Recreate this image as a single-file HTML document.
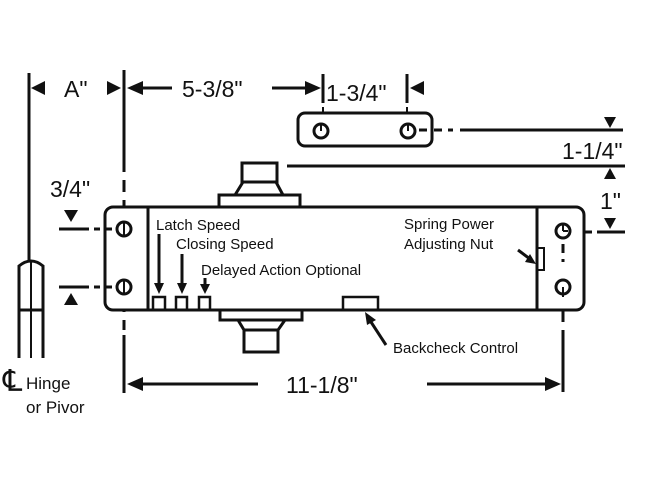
<!DOCTYPE html>
<html><head><style>body{margin:0;background:#fff}svg{display:block}text{font-family:"Liberation Sans",sans-serif;fill:#111}</style></head>
<body>
<svg width="650" height="478" viewBox="0 0 650 478" xmlns="http://www.w3.org/2000/svg">
<g stroke="#111" stroke-width="3" fill="none">
<!-- hinge -->
<line x1="29" y1="73" x2="29" y2="260"/>
<path d="M19,358V266Q31,256 43,266V358" />
<line x1="19" y1="310" x2="43" y2="310"/>
<line x1="31" y1="262" x2="31" y2="358" stroke-width="2"/>
<path d="M31,88l14,-7v14z" fill="#111" stroke="none"/>
<path d="M121,88l-14,-7v14z" fill="#111" stroke="none"/>
<!-- left vertical -->
<line x1="124" y1="70" x2="124" y2="160"/>
<line x1="124" y1="160" x2="124" y2="330" stroke-dasharray="12,8"/>
<line x1="124" y1="335" x2="124" y2="393"/>
<!-- 5-3/8 -->
<line x1="140" y1="88" x2="172" y2="88"/>
<path d="M127,88l16,-7v14z" fill="#111" stroke="none"/>
<line x1="272" y1="88" x2="305" y2="88"/>
<path d="M321,88l-16,-7v14z" fill="#111" stroke="none"/>
<line x1="323" y1="74" x2="323" y2="103"/>
<line x1="407" y1="74" x2="407" y2="103"/>
<path d="M410,88l14,-7v14z" fill="#111" stroke="none"/>
<!-- plate -->
<rect x="298" y="113" width="134" height="33" rx="7"/>
<circle cx="321" cy="131" r="7"/><circle cx="408" cy="131" r="7"/>
<line x1="321" y1="124" x2="321" y2="131" stroke-width="2"/>
<line x1="408" y1="124" x2="408" y2="131" stroke-width="2"/>
<line x1="323" y1="107" x2="323" y2="113" stroke-width="2"/>
<line x1="407" y1="107" x2="407" y2="113" stroke-width="2"/>
<path d="M419,130h8M434,130h8M448,130h5M460,130h163"/>
<path d="M610,128l-6,-11h12z" fill="#111" stroke="none"/>
<line x1="287" y1="166" x2="625" y2="166"/>
<path d="M610,168l-6,11h12z" fill="#111" stroke="none"/>
<path d="M610,229l-6,-11h12z" fill="#111" stroke="none"/>
<path d="M571,232h8M585,232h7M597,232h28"/>
<!-- top block -->
<rect x="219" y="195" width="81" height="12"/>
<path d="M235,195L243,182H276L283,195"/>
<rect x="242" y="163" width="35" height="19"/>
<!-- bottom block -->
<rect x="220" y="310" width="82" height="10"/>
<path d="M238,320L244,330H278L285,320"/>
<rect x="244" y="330" width="34" height="22"/>
<!-- body -->
<rect x="105" y="207" width="479" height="103" rx="8" fill="#fff"/>
<line x1="148" y1="207" x2="148" y2="310"/>
<line x1="537" y1="207" x2="537" y2="310"/>
<circle cx="124" cy="229" r="7"/><circle cx="124" cy="287" r="7"/>
<line x1="124" y1="222" x2="124" y2="236" stroke-width="2"/>
<line x1="124" y1="280" x2="124" y2="294" stroke-width="2"/>
<path d="M59,229h30M94,229h6M106,229h6"/>
<path d="M59,287h30M94,287h6M106,287h6"/>
<path d="M71,222l-7,-12h14z" fill="#111" stroke="none"/>
<path d="M71,293l-7,12h14z" fill="#111" stroke="none"/>
<!-- small squares -->
<rect x="153" y="297" width="12" height="13" stroke-width="2.5"/>
<rect x="176" y="297" width="11" height="13" stroke-width="2.5"/>
<rect x="199" y="297" width="11" height="13" stroke-width="2.5"/>
<line x1="159" y1="234" x2="159" y2="284"/><path d="M159,294l-5,-11h10z" fill="#111" stroke="none"/>
<line x1="182" y1="254" x2="182" y2="284"/><path d="M182,294l-5,-11h10z" fill="#111" stroke="none"/>
<line x1="205" y1="278" x2="205" y2="285"/><path d="M205,294l-5,-10h10z" fill="#111" stroke="none"/>
<!-- right -->
<circle cx="563" cy="231" r="7"/><circle cx="563" cy="287" r="7"/>
<line x1="563" y1="224" x2="563" y2="231" stroke-width="2"/>
<line x1="563" y1="231" x2="568" y2="231" stroke-width="2"/>
<line x1="563" y1="244" x2="563" y2="262" stroke-dasharray="9,6"/>
<line x1="563" y1="287" x2="563" y2="297" stroke-width="2"/>
<line x1="563" y1="310" x2="563" y2="322"/>
<line x1="563" y1="330" x2="563" y2="392"/>
<rect x="537" y="248" width="7" height="22" stroke-width="2"/>
<line x1="518" y1="250" x2="530" y2="259"/><path d="M536,264l-11,-2l5,-8z" fill="#111" stroke="none"/>
<!-- backcheck -->
<rect x="343" y="297" width="35" height="13" stroke-width="2.5"/>
<line x1="386" y1="345" x2="371" y2="322"/><path d="M365,312l2,13l9,-5z" fill="#111" stroke="none"/>
<!-- 11-1/8 -->
<line x1="140" y1="384" x2="258" y2="384"/>
<path d="M127,384l16,-7v14z" fill="#111" stroke="none"/>
<line x1="427" y1="384" x2="546" y2="384"/>
<path d="M561,384l-16,-7v14z" fill="#111" stroke="none"/>
</g>
<text x="64" y="97" font-size="23">A"</text>
<text x="182" y="97" font-size="23">5-3/8"</text>
<text x="326" y="101" font-size="23">1-3/4"</text>
<text x="562" y="159" font-size="23">1-1/4"</text>
<text x="600" y="209" font-size="23">1"</text>
<text x="50" y="197" font-size="23">3/4"</text>
<text x="156" y="230" font-size="15">Latch Speed</text>
<text x="176" y="249" font-size="15">Closing Speed</text>
<text x="201" y="275" font-size="15">Delayed Action Optional</text>
<text x="404" y="229" font-size="15">Spring Power</text>
<text x="404" y="249" font-size="15">Adjusting Nut</text>
<text x="393" y="353" font-size="15">Backcheck Control</text>
<text x="286" y="393" font-size="23">11-1/8"</text>
<text x="3" y="391" font-size="30">℄</text>
<text x="26" y="389" font-size="17">Hinge</text>
<text x="26" y="413" font-size="17">or Pivor</text>
</svg>
</body></html>
